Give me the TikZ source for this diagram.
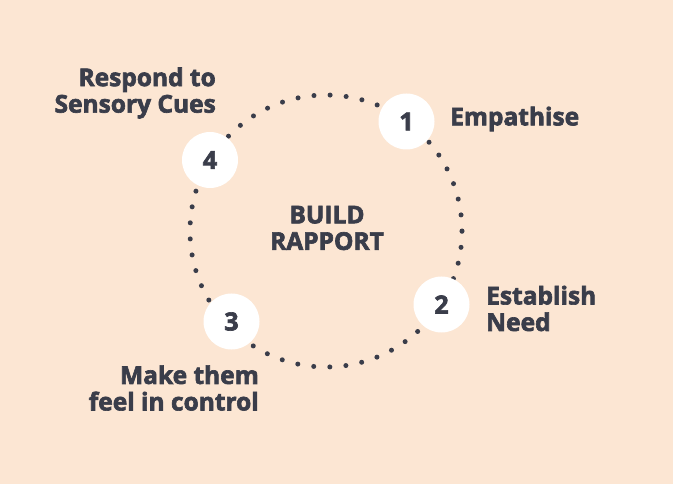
\documentclass[tikz,border=0pt]{standalone}
\usepackage{fontspec}
\setmainfont{Open Sans}[BoldFont={Open Sans Bold},BoldFeatures={FakeBold=2.6}]
\definecolor{bg}{HTML}{FCE6D3}
\definecolor{ink}{HTML}{3A3D4A}
\begin{document}
\begin{tikzpicture}[x=1pt,y=-1pt,
  numcirc/.style={circle,fill=white,minimum size=56pt,inner sep=0pt,text=ink,font=\bfseries\fontsize{25}{27}\selectfont},
  lbl/.style={text=ink,font=\bfseries\fontsize{24.5}{26.5}\selectfont,inner sep=0pt}]
\fill[bg] (0,0) rectangle (673,484);
\useasboundingbox (0,0) rectangle (673,484);
\coordinate (c) at (326,231);
\draw[ink,line width=5pt,line cap=round,dash pattern=on 0pt off 16.12pt] (c) circle[radius=136pt];
\node[numcirc] (n1) at (406.5,121.5) {1};
\node[numcirc] (n2) at (441.5,304.5) {2};
\node[numcirc] (n3) at (231.5,321.5) {3};
\node[numcirc] (n4) at (210,160) {4};
\node[lbl,align=center] (center) at (327,228) {BUILD\\RAPPORT};
\node[lbl,anchor=west] (l1) at (450,119) {Empathise};
\node[lbl,anchor=west,align=left] (l2) at (486,308.5) {Establish\\Need};
\node[lbl,anchor=east,align=right] (l3) at (259,388) {Make them\\feel in control};
\node[lbl,anchor=east,align=right] (l4) at (216,93) {Respond to\\Sensory Cues};
\end{tikzpicture}
\end{document}
